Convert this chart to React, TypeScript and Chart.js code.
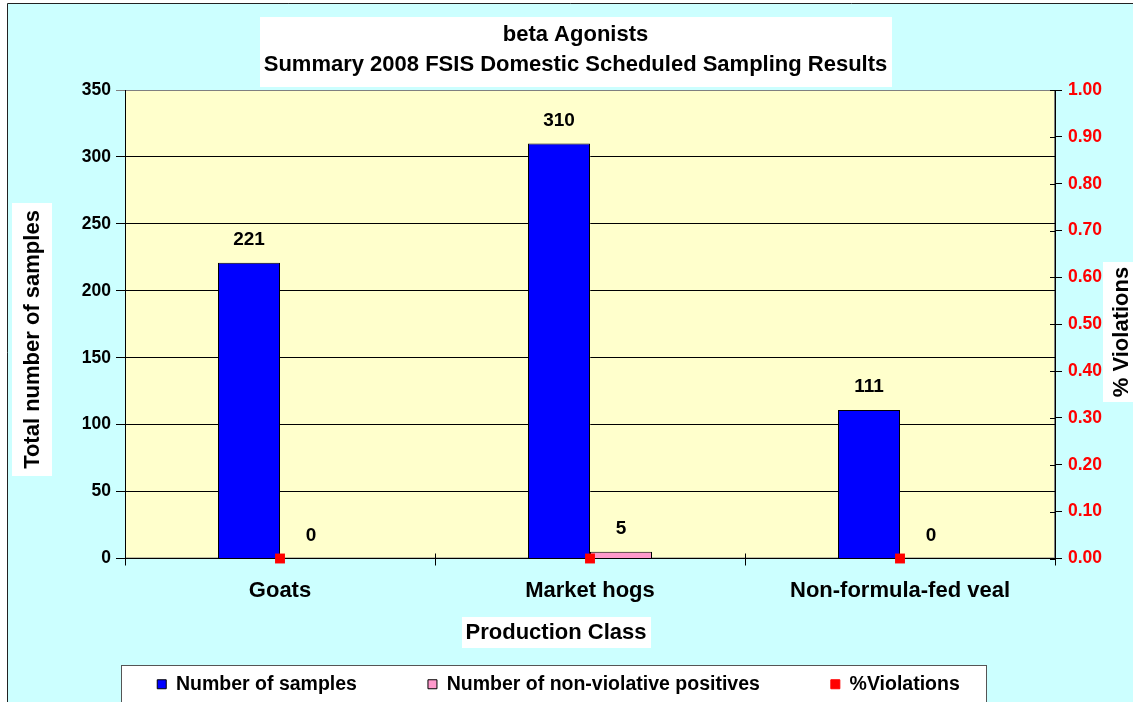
import React, { useEffect, useRef } from 'react';
import { Chart, registerables } from 'chart.js';

Chart.register(...registerables);

const categories = ['Goats', 'Market hogs', 'Non-formula-fed veal'];
const numberOfSamples = [221, 310, 111];
const nonViolativePositives = [0, 5, 0];
const percentViolations = [0, 0, 0];
const titleLines = ['beta Agonists', 'Summary 2008 FSIS Domestic Scheduled Sampling Results'];
const leftAxisTitle = 'Total number of samples';
const rightAxisTitle = '% Violations';
const xAxisTitle = 'Production Class';
const seriesLabels = ['Number of samples', 'Number of non-violative positives', '%Violations'];

const FONT = "'Liberation Sans', Arial, sans-serif";
const TITLE_SIZE = 22;

export default function App() {
  const ref = useRef<HTMLCanvasElement>(null);

  useEffect(() => {
    document.body.style.margin = '0';
    const canvas = ref.current!;

    const decor = {
      id: 'decor',
      afterLayout(chart: any) {
        const lg = chart.legend;
        if (lg) { lg.left -= 12; lg.right -= 12; }
        const tb = chart.titleBlock;
        if (tb) { tb.left += 5; tb.right += 5; }
      },
      beforeDraw(chart: any) {
        const ctx = chart.ctx as CanvasRenderingContext2D;
        const { width, height, chartArea: ca } = chart;
        ctx.save();
        ctx.fillStyle = '#FFFFFF';
        ctx.fillRect(0, 0, width, height);
        ctx.fillStyle = '#CCFFFF';
        ctx.fillRect(7, 3, width - 7, height - 3);
        ctx.strokeStyle = '#222';
        ctx.lineWidth = 1;
        ctx.beginPath();
        ctx.moveTo(7.5, height);
        ctx.lineTo(7.5, 3.5);
        ctx.lineTo(width, 3.5);
        ctx.stroke();

        // plot area
        ctx.fillStyle = '#FFFFCC';
        ctx.fillRect(ca.left, ca.top, ca.right - ca.left, ca.bottom - ca.top);
        ctx.strokeStyle = '#808080';
        ctx.strokeRect(ca.left + 0.5, ca.top + 0.5, ca.right - ca.left - 1, ca.bottom - ca.top - 1);

        // title box
        const tb = chart.titleBlock;
        ctx.font = `bold ${TITLE_SIZE}px ${FONT}`;
        const tw = Math.max(...titleLines.map((s) => ctx.measureText(s).width));
        const tc = (tb.left + tb.right) / 2;
        ctx.fillStyle = '#FFFFFF';
        ctx.fillRect(Math.round(tc - tw / 2 - 4), 17, Math.round(tw + 8), 70);

        // legend box
        ctx.fillStyle = '#FFFFFF';
        ctx.fillRect(121, 665, 865, height - 665 + 5);
        ctx.strokeStyle = '#555';
        ctx.strokeRect(121.5, 665.5, 865, height);

        // axis titles
        ctx.font = `bold ${TITLE_SIZE}px ${FONT}`;
        ctx.textAlign = 'center';
        ctx.textBaseline = 'middle';

        // left
        const lw = ctx.measureText(leftAxisTitle).width;
        ctx.fillStyle = '#FFFFFF';
        ctx.fillRect(12, Math.round(339.5 - lw / 2 - 7), 40, Math.round(lw + 14));
        ctx.save();
        ctx.translate(33, 339.5);
        ctx.rotate(-Math.PI / 2);
        ctx.fillStyle = '#000';
        ctx.fillText(leftAxisTitle, 0, 0);
        ctx.restore();

        // right
        const rw = ctx.measureText(rightAxisTitle).width;
        ctx.fillStyle = '#FFFFFF';
        ctx.fillRect(1103, Math.round(332 - rw / 2 - 5), 40, Math.round(rw + 10));
        ctx.save();
        ctx.translate(1122, 332);
        ctx.rotate(-Math.PI / 2);
        ctx.fillStyle = '#000';
        ctx.fillText(rightAxisTitle, 0, 0);
        ctx.restore();

        // x title
        const xw = ctx.measureText(xAxisTitle).width;
        ctx.fillStyle = '#FFFFFF';
        ctx.fillRect(Math.round(556 - xw / 2 - 4), 617, Math.round(xw + 8), 31);
        ctx.fillStyle = '#000';
        ctx.fillText(xAxisTitle, 556, 633);
        ctx.restore();
      },
      afterDraw(chart: any) {
        // inner halves of the "cross" tick marks on the x and right axes
        const ctx = chart.ctx as CanvasRenderingContext2D;
        const ca = chart.chartArea;
        const xs = chart.scales.x;
        const y1 = chart.scales.y1;
        ctx.save();
        ctx.strokeStyle = '#000';
        ctx.lineWidth = 1;
        ctx.beginPath();
        for (let i = 0; i < xs.ticks.length - 1; i++) {
          const px = Math.round((xs.getPixelForTick(i) + xs.getPixelForTick(i + 1)) / 2) + 0.5;
          ctx.moveTo(px, ca.bottom - 5);
          ctx.lineTo(px, ca.bottom);
        }
        y1.ticks.forEach((t: any) => {
          const py = Math.round(y1.getPixelForValue(t.value)) + 0.5;
          ctx.moveTo(ca.right - 5, py);
          ctx.lineTo(ca.right, py);
        });
        ctx.stroke();
        ctx.restore();
      },
      afterDatasetsDraw(chart: any) {
        const ctx = chart.ctx as CanvasRenderingContext2D;
        ctx.save();
        ctx.font = `bold 19px ${FONT}`;
        ctx.fillStyle = '#000';
        ctx.textAlign = 'center';
        ctx.textBaseline = 'middle';
        [0, 1].forEach((di) => {
          const meta = chart.getDatasetMeta(di);
          meta.data.forEach((el: any, i: number) => {
            const v = chart.data.datasets[di].data[i];
            ctx.fillText(String(v), el.x, el.y - 23);
          });
        });
        ctx.restore();
      },
    };

    const chart = new Chart(canvas, {
      type: 'bar',
      data: {
        labels: categories,
        datasets: [
          {
            type: 'bar',
            label: seriesLabels[0],
            data: numberOfSamples,
            backgroundColor: '#0000FF',
            borderColor: '#000000',
            borderWidth: 1,
            yAxisID: 'y',
            order: 1,
            categoryPercentage: 0.4,
            barPercentage: 1,
          },
          {
            type: 'bar',
            label: seriesLabels[1],
            data: nonViolativePositives,
            backgroundColor: '#FF99CC',
            borderColor: '#000000',
            borderWidth: 1,
            yAxisID: 'y',
            order: 1,
            categoryPercentage: 0.4,
            barPercentage: 1,
          },
          {
            type: 'line',
            label: seriesLabels[2],
            data: percentViolations,
            yAxisID: 'y1',
            showLine: false,
            pointStyle: 'rect',
            pointRadius: 7,
            pointBorderWidth: 0,
            backgroundColor: '#FF0000',
            borderColor: '#FF0000',
            borderWidth: 1,
            order: 0,
            clip: false,
          } as any,
        ],
      },
      options: {
        responsive: false,
        animation: false,
        devicePixelRatio: 1,
        layout: { padding: { left: 8, right: 0, top: 0, bottom: -2 } },
        plugins: {
          tooltip: { enabled: false },
          title: {
            display: true,
            text: titleLines,
            color: '#000',
            font: { family: FONT, size: TITLE_SIZE, weight: 'bold', lineHeight: 30 / TITLE_SIZE },
            padding: { top: 20, bottom: 10 },
          },
          legend: {
            display: true,
            position: 'bottom',
            labels: {
              color: '#000',
              font: { family: FONT, size: 19.5, weight: 'bold' },
              boxWidth: 9,
              boxHeight: 9,
              padding: 71,
              sort: (a: any, b: any) => a.datasetIndex - b.datasetIndex,
            },
          },
        },
        scales: {
          x: {
            grid: { display: true, drawOnChartArea: false, offset: true, tickLength: 7, color: '#000' },
            border: { color: '#000' },
            ticks: { color: '#000', font: { family: FONT, size: 22, weight: 'bold' }, padding: 12 },
            afterFit: (s: any) => { s.height = 45; },
          },
          y: {
            position: 'left',
            min: 0,
            max: 350,
            ticks: { stepSize: 50, color: '#000', font: { family: FONT, size: 17.5, weight: 'bold' }, padding: 5 },
            grid: {
              color: (c: any) => (c.tick && c.tick.value === 350 ? '#808080' : '#000'),
              tickLength: 9,
            },
            border: { color: '#000' },
            afterFit: (s: any) => { s.width = 117; },
          },
          y1: {
            position: 'right',
            min: 0,
            max: 1,
            ticks: {
              stepSize: 0.1,
              color: '#FF0000',
              font: { family: FONT, size: 17.5, weight: 'bold' },
              padding: 6,
              callback: (v: any) => Number(v).toFixed(2),
            },
            grid: { drawOnChartArea: false, tickLength: 7, color: '#000' },
            border: { color: '#000' },
            afterFit: (s: any) => { s.width = 78; },
          },
        },
      },
      plugins: [decor],
    });

    return () => chart.destroy();
  }, []);

  return (
    <canvas
      ref={ref}
      width={1133}
      height={702}
      style={{ display: 'block', position: 'absolute', left: 0, top: 0, width: 1133, height: 702 }}
    />
  );
}
